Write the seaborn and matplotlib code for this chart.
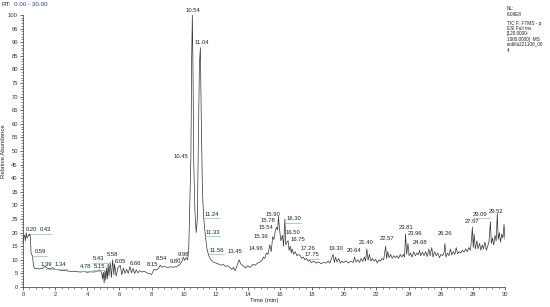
import matplotlib
matplotlib.use("Agg")
import matplotlib.pyplot as plt
from matplotlib.ticker import MultipleLocator
import seaborn as sns
import pandas as pd

# ---------------- data ----------------
rt = [
    0.00, 0.05, 0.10, 0.15, 0.20, 0.25, 0.30, 0.35, 0.40, 0.43, 0.47, 0.50, 0.55, 0.59, 0.65, 0.70,
    0.80, 0.90, 1.00, 1.10, 1.20, 1.30, 1.39, 1.50, 1.60, 1.70, 1.84, 2.00, 2.20, 2.40, 2.60, 2.80,
    3.00, 3.20, 3.40, 3.60, 3.80, 4.00, 4.20, 4.40, 4.60, 4.78, 4.90, 4.95, 5.00, 5.05, 5.10, 5.15,
    5.20, 5.25, 5.30, 5.35, 5.43, 5.50, 5.58, 5.65, 5.70, 5.80, 5.90, 6.05, 6.15, 6.25, 6.35, 6.45,
    6.55, 6.66, 6.75, 6.85, 6.95, 7.05, 7.15, 7.25, 7.40, 7.55, 7.70, 7.85, 8.00, 8.15, 8.30, 8.45,
    8.54, 8.65, 8.80, 9.00, 9.20, 9.40, 9.60, 9.80, 9.90, 9.98, 10.05, 10.15, 10.25, 10.32, 10.38,
    10.45, 10.50, 10.54, 10.58, 10.63, 10.70, 10.78, 10.85, 10.92, 10.98, 11.04, 11.10, 11.17, 11.24,
    11.33, 11.45, 11.56, 11.70, 11.85, 12.00, 12.15, 12.30, 12.45, 12.60, 12.75, 12.90, 13.00, 13.10,
    13.20, 13.30, 13.45, 13.55, 13.70, 13.85, 14.00, 14.15, 14.30, 14.45, 14.60, 14.75, 14.90, 14.96,
    15.05, 15.15, 15.25, 15.36, 15.45, 15.54, 15.62, 15.70, 15.78, 15.85, 15.90, 15.97, 16.05, 16.15,
    16.22, 16.30, 16.36, 16.43, 16.50, 16.56, 16.63, 16.70, 16.75, 16.85, 16.95, 17.05, 17.15, 17.26,
    17.35, 17.45, 17.55, 17.65, 17.75, 17.85, 17.95, 18.10, 18.25, 18.40, 18.55, 18.70, 18.85, 19.00,
    19.10, 19.20, 19.30, 19.38, 19.45, 19.55, 19.65, 19.75, 19.85, 19.95, 20.10, 20.25, 20.40, 20.55,
    20.64, 20.72, 20.85, 20.95, 21.05, 21.15, 21.25, 21.32, 21.40, 21.48, 21.56, 21.65, 21.75, 21.85,
    21.95, 22.05, 22.15, 22.25, 22.35, 22.45, 22.57, 22.63, 22.70, 22.78, 22.88, 22.98, 23.08, 23.18,
    23.28, 23.38, 23.48, 23.58, 23.68, 23.75, 23.81, 23.88, 23.96, 24.03, 24.12, 24.22, 24.32, 24.42,
    24.52, 24.60, 24.68, 24.76, 24.86, 24.96, 25.06, 25.16, 25.26, 25.34, 25.44, 25.52, 25.62, 25.72,
    25.82, 25.92, 26.02, 26.12, 26.20, 26.26, 26.32, 26.42, 26.52, 26.60, 26.68, 26.78, 26.88, 26.96,
    27.05, 27.15, 27.25, 27.35, 27.45, 27.55, 27.65, 27.75, 27.85, 27.92, 27.97, 28.02, 28.08, 28.15,
    28.25, 28.32, 28.42, 28.50, 28.58, 28.66, 28.75, 28.84, 28.92, 29.00, 29.09, 29.15, 29.22, 29.30,
    29.38, 29.45, 29.52, 29.58, 29.65, 29.72, 29.80, 29.87, 29.94, 30.00,
]
abundance = [
    16.5, 18.5, 19.0, 17.0, 20.0, 18.0, 18.5, 19.2, 19.0, 19.5, 17.0, 12.5, 11.8, 11.5, 8.0, 7.0,
    6.7, 6.8, 6.6, 6.9, 6.8, 7.2, 7.6, 7.0, 6.8, 6.7, 7.1, 6.5, 6.3, 6.1, 6.0, 5.9,
    5.7, 5.8, 5.6, 5.5, 5.7, 5.4, 5.6, 5.5, 5.7, 6.3, 5.2, 3.0, 5.5, 1.5, 6.0, 2.5,
    7.0, 3.0, 8.5, 4.0, 9.0, 3.5, 10.0, 4.5, 8.5, 4.0, 7.0, 8.0, 4.5, 7.0, 5.0, 6.5,
    5.0, 7.5, 5.2, 6.8, 5.0, 6.3, 5.2, 6.0, 5.5, 5.8, 5.2, 5.0, 4.6, 6.5, 6.2, 7.0,
    8.0, 7.3, 7.5, 7.2, 7.4, 7.3, 7.6, 8.5, 9.5, 11.0, 9.8, 10.8, 10.0, 15.0, 30.0,
    48.0, 85.0, 100.0, 80.0, 45.0, 28.0, 20.0, 25.0, 55.0, 82.0, 88.0, 60.0, 35.0, 26.0,
    20.0, 14.0, 11.5, 10.0, 9.2, 8.8, 8.5, 8.0, 8.3, 7.6, 7.8, 7.0, 6.5, 7.2,
    6.0, 7.5, 10.0, 8.5, 7.8, 7.0, 7.8, 7.2, 8.3, 8.0, 8.8, 9.2, 10.0, 11.0,
    10.5, 12.5, 12.0, 15.5, 13.0, 18.5, 17.5, 20.5, 22.0, 21.0, 26.0, 21.0, 17.0, 19.0,
    15.0, 25.0, 15.5, 16.5, 17.0, 13.5, 15.0, 12.5, 14.0, 12.0, 13.0, 11.5, 12.0, 11.5,
    10.5, 11.0, 10.0, 10.5, 9.5, 9.8, 9.0, 9.5, 8.8, 9.2, 8.6, 9.0, 8.8, 9.5,
    8.8, 10.5, 12.0, 9.0, 11.0, 9.2, 10.5, 8.8, 9.5, 9.0, 9.6, 8.8, 9.5, 9.0,
    11.0, 9.2, 10.0, 9.0, 10.5, 9.4, 11.0, 9.5, 14.0, 9.8, 12.0, 9.5, 10.5, 9.5,
    10.2, 8.8, 10.0, 9.5, 10.5, 10.0, 15.0, 10.5, 13.0, 10.8, 12.0, 10.5, 11.5, 10.8,
    11.5, 10.5, 12.0, 11.0, 12.0, 11.0, 19.5, 12.0, 16.0, 11.5, 12.5, 11.0, 13.0, 11.5,
    12.5, 11.8, 13.5, 11.5, 12.8, 11.5, 13.0, 11.2, 14.0, 11.5, 14.5, 11.0, 13.0, 11.5,
    12.5, 10.8, 12.0, 11.5, 12.5, 16.0, 11.0, 12.5, 11.5, 14.0, 11.8, 13.0, 12.0, 14.5,
    12.2, 13.0, 12.5, 13.5, 12.8, 14.0, 13.0, 14.5, 13.5, 18.0, 22.0, 14.5, 19.5, 14.0,
    17.0, 14.0, 16.0, 13.5, 15.5, 14.0, 16.5, 13.5, 15.0, 16.5, 24.0, 16.0, 18.0, 15.5,
    19.0, 17.0, 27.0, 17.5, 20.0, 16.5, 19.5, 18.0, 23.0, 17.5,
]

# peak labels (text as printed on the chromatogram)
peak_labels = ["0.20", "0.43", "0.59", "1.39", "1.34", "4.78", "5.15", "5.43", "5.58", "6.05",
               "6.66", "8.15", "8.54", "9.80", "9.98", "10.45", "10.54", "11.04", "11.24",
               "11.33", "11.56", "13.45", "14.96", "15.36", "15.54", "15.78", "15.90", "16.30",
               "16.50", "16.75", "17.26", "17.75", "19.30", "20.64", "21.40", "22.57", "23.81",
               "23.96", "24.68", "26.26", "27.97", "29.09", "29.52"]
peak_rt = [0.20, 0.43, 0.59, 1.39, 1.84, 4.78, 5.15, 5.43, 5.58, 6.05,
           6.66, 8.15, 8.54, 9.80, 9.98, 10.45, 10.54, 11.04, 11.24,
           11.33, 11.56, 13.45, 14.96, 15.36, 15.54, 15.78, 15.90, 16.30,
           16.50, 16.75, 17.26, 17.75, 19.30, 20.64, 21.40, 22.57, 23.81,
           23.96, 24.68, 26.26, 27.97, 29.09, 29.52]
peak_val = [20.0, 19.5, 11.5, 7.6, 7.1, 6.3, 2.5, 9.0, 10.0, 8.0,
            7.5, 6.5, 8.0, 8.5, 11.0, 48.0, 100.0, 88.0, 26.0,
            20.0, 11.5, 10.0, 11.0, 15.5, 18.5, 22.0, 26.0, 25.0,
            17.0, 14.0, 11.5, 9.5, 12.0, 11.0, 14.0, 15.0, 19.5,
            16.0, 13.5, 16.0, 22.0, 24.0, 27.0]

# ---------------- layout of labels (placement only) ----------------
label_pos = [(0.50, 21.3), (1.37, 21.0), (1.06, 12.9), (1.43, 8.1), (2.30, 8.1), (3.92, 7.4),
             (4.79, 7.7), (4.73, 10.3), (5.60, 12.1), (6.04, 9.2), (6.97, 8.5), (8.03, 8.1),
             (8.59, 10.3), (9.46, 9.2), (9.96, 12.1), (9.80, 47.8), (10.58, 101.6),
             (11.14, 89.8), (11.76, 26.8), (11.82, 20.2), (12.07, 13.6), (13.19, 12.9),
             (14.50, 14.0), (14.81, 18.4), (15.12, 21.7), (15.25, 24.3), (15.56, 26.8),
             (16.86, 25.0), (16.80, 20.2), (17.11, 17.3), (17.73, 14.3), (17.98, 11.8),
             (19.48, 14.3), (20.60, 13.6), (21.34, 16.2), (22.65, 18.0), (23.83, 21.7),
             (24.39, 19.5), (24.70, 16.5), (26.26, 19.5), (27.94, 23.9), (28.44, 26.8),
             (29.43, 27.6)]
leader = {"0.43", "0.59", "1.39", "1.34", "4.78", "5.15", "5.43", "11.24", "11.33",
          "11.56", "16.30", "29.09", "9.98", "17.75"}

# ---------------- plot ----------------
sns.set_style("ticks")
plt.rcParams["font.family"] = ["Liberation Sans", "DejaVu Sans"]

fig = plt.figure(figsize=(5.5, 3.07), dpi=100)
ax = fig.add_axes([23 / 550, 1 - 287 / 307, (505 - 23) / 550, (287 - 15) / 307])

df = pd.DataFrame({"rt": rt, "abundance": abundance})
sns.lineplot(data=df, x="rt", y="abundance", ax=ax, color="#333333", linewidth=0.5,
             sort=False, estimator=None)

green = "#7cc8a4"
for lab, prt, pv, (lx, ly) in zip(peak_labels, peak_rt, peak_val, label_pos):
    ax.text(lx, ly, lab, fontsize=4.2, ha="center", va="center", color="#222222",
            clip_on=False)
    if lab in leader:
        yline = ly - 1.6
        half = 0.42
        if prt < lx:
            ax.plot([prt, lx + half], [yline, yline], color=green, lw=0.5)
        else:
            ax.plot([lx - half, prt], [yline, yline], color=green, lw=0.5)

ax.set_xlim(0, 30)
ax.set_ylim(0, 100)
ax.xaxis.set_major_locator(MultipleLocator(2))
ax.xaxis.set_minor_locator(MultipleLocator(0.4))
ax.yaxis.set_major_locator(MultipleLocator(5))
ax.yaxis.set_minor_locator(MultipleLocator(1))
ax.tick_params(axis="both", which="major", labelsize=4.2, length=2.5, width=0.5, pad=1.2,
               colors="#333333")
ax.tick_params(axis="both", which="minor", length=1.3, width=0.4, colors="#333333")
for s in ["top", "right"]:
    ax.spines[s].set_visible(False)
for s in ["left", "bottom"]:
    ax.spines[s].set_linewidth(0.5)
    ax.spines[s].set_color("#333333")

ax.set_xlabel("Time (min)", fontsize=4.3, labelpad=0.5)
ax.set_ylabel("Relative Abundance", fontsize=4.3, labelpad=1.5)

fig.text(2 / 550, 1 - 5 / 307, "RT:", fontsize=4.5, color="#222222", va="center")
fig.text(14 / 550, 1 - 5 / 307, "0.00 - 30.00", fontsize=4.5, color="#2b3fa0", va="center")

info = [("NL:", 9), ("6.09E8", 15), ("TIC F: FTMS - p", 23), ("ESI Full ms", 29),
        ("[120.0000-", 34), ("1000.0000]  MS", 39), ("rodilla221108_00", 44), ("4", 50)]
for t, yy in info:
    fig.text(507 / 550, 1 - yy / 307, t, fontsize=3.4, color="#222222", va="center")

fig.savefig("out.png", dpi=100)
